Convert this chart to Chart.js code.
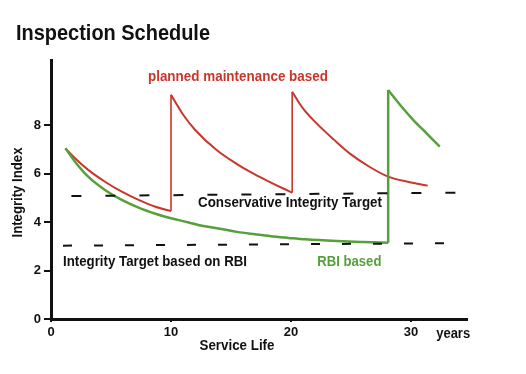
<!DOCTYPE html>
<html><head><meta charset="utf-8">
<script src="https://cdn.jsdelivr.net/npm/chart.js@4/dist/chart.umd.min.js"></script>
<style>html,body{margin:0;padding:0;background:#fff;}#wrap{width:526px;height:374px;position:relative;}</style>
</head><body><div id="wrap"><canvas id="c" width="526" height="374" style="width:526px;height:374px"></canvas></div>
<script>
// ---- data ----
const chartTitle = "Inspection Schedule";
const xTitle = "Service Life";
const yTitle = "Integrity Index";
const xUnit = "years";
const xTickValues = [0, 10, 20, 30];
const yTickValues = [0, 2, 4, 6, 8];

// planned maintenance based (red), three decay segments
const redSeg1X = [1.2, 2.0, 3.1, 4.5, 5.9, 7.3, 8.7, 10.0];
const redSeg1Y = [7.05, 6.64, 6.16, 5.67, 5.26, 4.92, 4.64, 4.46];
const redSeg2X = [10.0, 11.0, 12.0, 13.8, 15.5, 16.6, 18.0, 19.4, 20.1];
const redSeg2Y = [9.26, 8.45, 7.82, 6.98, 6.4, 6.08, 5.72, 5.38, 5.22];
const redSeg3X = [20.1, 21.0, 22.2, 23.6, 25.0, 26.5, 28.1, 29.8, 31.4];
const redSeg3Y = [9.39, 8.7, 8.05, 7.4, 6.8, 6.3, 5.88, 5.66, 5.51];

// RBI based (green), two decay segments
const greenSeg1X = [1.2, 2.0, 3.1, 4.5, 5.9, 7.3, 8.7, 10.0, 11.4, 12.7, 14.2, 15.5, 17.0, 18.3, 19.8, 21.2, 23.8, 26.0, 28.1];
const greenSeg1Y = [7.05, 6.5, 5.88, 5.33, 4.92, 4.6, 4.35, 4.16, 4.0, 3.84, 3.72, 3.6, 3.5, 3.42, 3.35, 3.29, 3.22, 3.18, 3.15];
const greenSeg2X = [28.1, 29.1, 30.2, 31.3, 32.4];
const greenSeg2Y = [9.46, 8.84, 8.22, 7.67, 7.12];

// target lines (dashed)
const conservativeX = [1.7, 34.0];
const conservativeY = [5.08, 5.22];
const rbiTargetX = [1.0, 33.4];
const rbiTargetY = [3.03, 3.13];

// annotation labels (data coordinates of their left/middle anchor)
const labelTexts = ["planned maintenance based", "Conservative Integrity Target", "Integrity Target based on RBI", "RBI based"];
const labelX = [8.08, 12.25, 1.0, 22.2];
const labelY = [10.0, 4.8, 2.36, 2.36];

// ---- styling ----
const FONT = "'Liberation Sans', Arial, sans-serif";
const RED = '#c8362c';
const GREEN = '#55a03a';
const labelColors = [RED, '#111', '#111', GREEN];
const labelWidths = [180, 184, 184, 64];

const pts = (xs, ys) => xs.map((v, i) => ({x: v, y: ys[i]}));
const curve = (xs, ys, color, w) => ({data: pts(xs, ys), borderColor: color, borderWidth: w, pointRadius: 0, cubicInterpolationMode: 'monotone', fill: false});
const jump = (xa, ya, xb, yb, color, w) => ({data: [{x: xa[xa.length-1], y: ya[ya.length-1]}, {x: xb[0], y: yb[0]}], borderColor: color, borderWidth: w, pointRadius: 0, fill: false});
const dashed = (xs, ys, dash) => ({data: pts(xs, ys), borderColor: '#111', borderWidth: 2, borderDash: dash, pointRadius: 0, fill: false});

const datasets = [
  dashed(conservativeX, conservativeY, [10, 24]),
  dashed(rbiTargetX, rbiTargetY, [9, 22]),
  curve(greenSeg1X, greenSeg1Y, GREEN, 2.5),
  curve(greenSeg2X, greenSeg2Y, GREEN, 2.5),
  jump(greenSeg1X, greenSeg1Y, greenSeg2X, greenSeg2Y, GREEN, 2.5),
  curve(redSeg1X, redSeg1Y, RED, 2),
  curve(redSeg2X, redSeg2Y, RED, 2),
  curve(redSeg3X, redSeg3Y, RED, 2),
  jump(redSeg1X, redSeg1Y, redSeg2X, redSeg2Y, RED, 1.6),
  jump(redSeg2X, redSeg2Y, redSeg3X, redSeg3Y, RED, 1.6),
];

// draw text horizontally condensed to a target width (narrow bold look)
function fitText(ctx, text, x, y, width, align) {
  const w = ctx.measureText(text).width;
  const s = Math.min(1, width / w);
  ctx.save();
  ctx.textAlign = 'left';
  let left = x;
  if (align === 'center') left = x - width / 2;
  ctx.translate(left, y);
  ctx.scale(s, 1);
  ctx.fillText(text, 0, 0);
  ctx.restore();
}

const textPlugin = {
  id: 'texts',
  afterDraw(chart) {
    const {ctx, scales: {x, y}} = chart;
    ctx.save();
    ctx.textBaseline = 'middle';
    ctx.fillStyle = '#111';
    ctx.font = `bold 22px ${FONT}`;
    fitText(ctx, chartTitle, 16, 34, 194);
    ctx.font = `bold 15px ${FONT}`;
    labelTexts.forEach((t, i) => {
      ctx.fillStyle = labelColors[i];
      fitText(ctx, t, x.getPixelForValue(labelX[i]), y.getPixelForValue(labelY[i]), labelWidths[i]);
    });
    ctx.fillStyle = '#111';
    ctx.font = `bold 14px ${FONT}`;
    const base = y.getPixelForValue(0);
    fitText(ctx, xUnit, x.getPixelForValue(32.1), base + 15, 34);
    fitText(ctx, xTitle, x.getPixelForValue(15.5), base + 27, 75, 'center');
    // y axis title, rotated
    ctx.save();
    ctx.translate(18, (chart.chartArea.top + chart.chartArea.bottom) / 2 + 3);
    ctx.rotate(-Math.PI / 2);
    fitText(ctx, yTitle, 0, 0, 90, 'center');
    ctx.restore();
    ctx.restore();
  }
};

new Chart(document.getElementById('c'), {
  type: 'line',
  data: {datasets},
  plugins: [textPlugin],
  options: {
    responsive: false,
    maintainAspectRatio: false,
    animation: false,
    devicePixelRatio: 1,
    layout: {padding: {top: 60, right: 59, left: 0, bottom: 0}},
    plugins: {legend: {display: false}, tooltip: {enabled: false}, title: {display: false}},
    scales: {
      x: {
        type: 'linear', min: 0, max: 34.67,
        afterBuildTicks: s => { s.ticks = xTickValues.map(v => ({value: v})); },
        afterFit: s => { s.height = 55; },
        ticks: {color: '#111', font: {family: FONT, size: 13, weight: 'bold'}, padding: 3, maxRotation: 0, autoSkip: false},
        grid: {display: true, drawOnChartArea: false, drawTicks: true, tickLength: 3, color: '#111', lineWidth: 2},
        border: {display: true, color: '#111', width: 3}
      },
      y: {
        type: 'linear', min: 0, max: 10.7,
        afterBuildTicks: s => { s.ticks = yTickValues.map(v => ({value: v})); },
        afterFit: s => { s.width = 51; },
        ticks: {color: '#111', font: {family: FONT, size: 13, weight: 'bold'}, padding: 3, autoSkip: false},
        grid: {display: true, drawOnChartArea: false, drawTicks: true, tickLength: 7, color: '#111', lineWidth: 2},
        border: {display: true, color: '#111', width: 3}
      }
    }
  }
});
</script></body></html>
